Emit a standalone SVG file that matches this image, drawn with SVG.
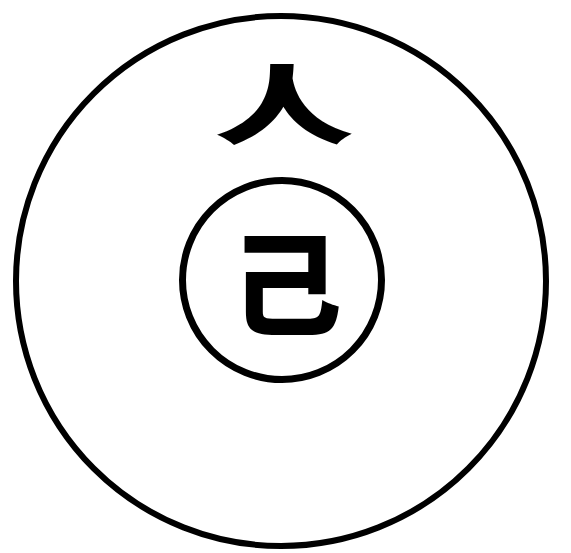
<svg xmlns="http://www.w3.org/2000/svg" width="571" height="553" viewBox="0 0 571 553">
<style>
.ring{fill:none;stroke:#000;}
.ch{font-family:"Noto Sans CJK SC","Noto Sans CJK JP",sans-serif;font-weight:900;fill:#000;text-anchor:middle;}
</style>
<rect width="571" height="553" fill="#fff"/>
<g id="outer">
<circle class="ring" cx="281" cy="281" r="265" stroke-width="6"/>
<text class="ch" x="0" y="0" font-size="95" transform="translate(284,137) scale(1.47,0.9)">人</text>
</g>
<g id="inner">
<circle class="ring" cx="282" cy="280" r="99.5" stroke-width="7"/>
<text class="ch" x="286" y="326" font-size="112">己</text>
</g>
<g id="connectors"></g>
</svg>
